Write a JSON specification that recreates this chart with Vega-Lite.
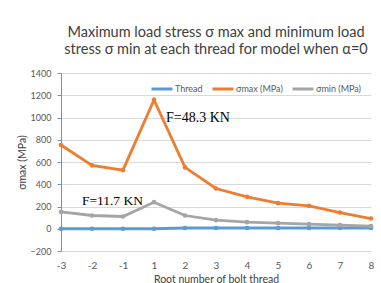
{
  "$schema": "https://vega.github.io/schema/vega-lite/v6.json",
  "autosize": "none",
  "width": 310,
  "height": 178,
  "padding": {"left": 61, "top": 73, "right": 10, "bottom": 32},
  "background": "white",
  "title": {
    "text": ["Maximum load stress σ max  and minimum load", "stress σ min  at each thread for model when α=0"],
    "anchor": "middle",
    "font": "Lato",
    "fontSize": 14.5,
    "fontWeight": "normal",
    "color": "#404040",
    "lineHeight": 17,
    "offset": 12
  },
  "config": {
    "view": {"stroke": null},
    "font": "Lato",
    "axisY": {"labelOverlap": false}
  },
  "encoding": {
    "x": {
      "field": "thread", "type": "ordinal",
      "sort": ["-3", "-2", "-1", "1", "2", "3", "4", "5", "6", "7", "8"],
      "scale": {"type": "point", "padding": 0},
      "axis": {
        "title": "Root number of bolt thread",
        "titleFont": "Lato", "titleFontSize": 10.5, "titleFontWeight": "normal", "titleColor": "#404040",
        "titlePadding": 4,
        "labelAngle": 0, "labelFontSize": 10, "labelColor": "#595959", "labelPadding": 9,
        "domain": false, "ticks": false, "grid": false
      }
    },
    "y": {
      "field": "value", "type": "quantitative",
      "scale": {"domain": [-200, 1400], "nice": false},
      "axis": {
        "title": "σmax  (MPa)",
        "titleFont": "Lato", "titleFontSize": 10.5, "titleFontWeight": "normal", "titleColor": "#404040",
        "titleX": -39,
        "titleBaseline": "middle",
        "values": [-200, 0, 200, 400, 600, 800, 1000, 1200, 1400],
        "format": "d",
        "labelOverlap": false,
        "labelFontSize": 9, "labelColor": "#595959", "labelPadding": 6,
        "domainColor": "#5B9BD5", "domainWidth": 1,
        "tickColor": "#5B9BD5", "tickSize": 4,
        "gridColor": "#D9D9D9", "gridWidth": 1
      }
    }
  },
  "layer": [
    {
      "data": {"values": [
        {"thread": "-3", "series": "Thread", "value": 0},
        {"thread": "-2", "series": "Thread", "value": 0},
        {"thread": "-1", "series": "Thread", "value": 0},
        {"thread": "1", "series": "Thread", "value": 0},
        {"thread": "2", "series": "Thread", "value": 7},
        {"thread": "3", "series": "Thread", "value": 7},
        {"thread": "4", "series": "Thread", "value": 7},
        {"thread": "5", "series": "Thread", "value": 7},
        {"thread": "6", "series": "Thread", "value": 7},
        {"thread": "7", "series": "Thread", "value": 7},
        {"thread": "8", "series": "Thread", "value": 7},
        {"thread": "-3", "series": "σmax (MPa)", "value": 753},
        {"thread": "-2", "series": "σmax (MPa)", "value": 570},
        {"thread": "-1", "series": "σmax (MPa)", "value": 527},
        {"thread": "1", "series": "σmax (MPa)", "value": 1159},
        {"thread": "2", "series": "σmax (MPa)", "value": 552},
        {"thread": "3", "series": "σmax (MPa)", "value": 362},
        {"thread": "4", "series": "σmax (MPa)", "value": 287},
        {"thread": "5", "series": "σmax (MPa)", "value": 230},
        {"thread": "6", "series": "σmax (MPa)", "value": 206},
        {"thread": "7", "series": "σmax (MPa)", "value": 146},
        {"thread": "8", "series": "σmax (MPa)", "value": 92},
        {"thread": "-3", "series": "σmin (MPa)", "value": 152},
        {"thread": "-2", "series": "σmin (MPa)", "value": 119},
        {"thread": "-1", "series": "σmin (MPa)", "value": 110},
        {"thread": "1", "series": "σmin (MPa)", "value": 239},
        {"thread": "2", "series": "σmin (MPa)", "value": 119},
        {"thread": "3", "series": "σmin (MPa)", "value": 77},
        {"thread": "4", "series": "σmin (MPa)", "value": 59},
        {"thread": "5", "series": "σmin (MPa)", "value": 50},
        {"thread": "6", "series": "σmin (MPa)", "value": 41},
        {"thread": "7", "series": "σmin (MPa)", "value": 32},
        {"thread": "8", "series": "σmin (MPa)", "value": 23}
      ]},
      "mark": {"type": "line", "strokeWidth": 2.8, "point": {"size": 22, "filled": true}},
      "encoding": {
        "color": {
          "field": "series", "type": "nominal",
          "scale": {"domain": ["Thread", "σmax (MPa)", "σmin (MPa)"], "range": ["#5B9BD5", "#ED7D31", "#A5A5A5"]},
          "legend": {
            "title": null,
            "orient": "none",
            "direction": "horizontal",
            "legendX": 89,
            "legendY": 4,
            "symbolType": "stroke",
            "symbolSize": 440,
            "symbolStrokeWidth": 3,
            "labelFont": "Lato",
            "labelFontSize": 9,
            "labelColor": "#595959",
            "labelOffset": 1,
            "columnPadding": 3
          }
        }
      }
    },
    {
      "data": {"values": [
        {"thread": "1", "value": 1000, "label": "F=48.3 KN", "side": "right"},
        {"thread": "1", "value": 250, "label": "F=11.7 KN", "side": "left"}
      ]},
      "transform": [{"filter": "datum.side === 'right'"}],
      "mark": {"type": "text", "align": "left", "baseline": "middle", "dx": 12, "font": "Liberation Serif", "fontSize": 14, "color": "#000000"},
      "encoding": {
        "text": {"field": "label"}
      }
    },
    {
      "data": {"values": [
        {"thread": "1", "value": 1000, "label": "F=48.3 KN", "side": "right"},
        {"thread": "1", "value": 250, "label": "F=11.7 KN", "side": "left"}
      ]},
      "transform": [{"filter": "datum.side === 'left'"}],
      "mark": {"type": "text", "align": "right", "baseline": "middle", "dx": -11, "font": "Liberation Serif", "fontSize": 13.5, "color": "#000000"},
      "encoding": {
        "text": {"field": "label"}
      }
    }
  ]
}
